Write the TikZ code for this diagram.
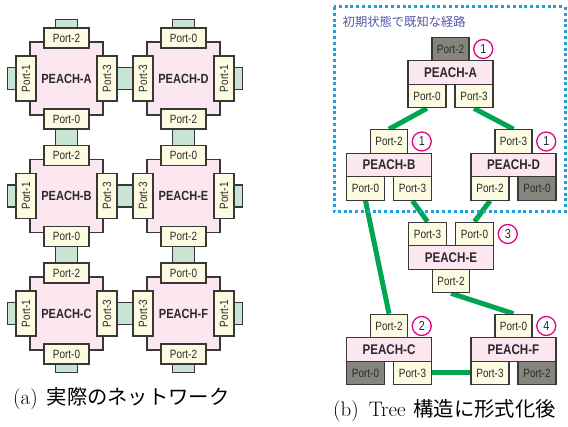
\documentclass[tikz,border=0pt]{standalone}
\usepackage{fontspec}
\usetikzlibrary{backgrounds,positioning}
\newfontfamily\cf[FakeStretch=0.83]{Liberation Sans}
\newfontfamily\jp{Noto Sans CJK JP}
\definecolor{pinkc}{HTML}{FCE6F0}
\definecolor{creamc}{HTML}{FEFBE3}
\definecolor{tabc}{HTML}{C8E4D2}
\definecolor{bordc}{HTML}{383838}
\definecolor{grayc}{HTML}{85857D}
\definecolor{greenc}{HTML}{00A54F}
\definecolor{bluec}{HTML}{1BA1E2}
\definecolor{magc}{HTML}{E4007F}
\definecolor{labc}{HTML}{5555A5}
\definecolor{txtc}{HTML}{2A2A2A}
\tikzset{
  bd/.style={draw=bordc, line width=1.2pt},
  body/.style={bd, fill=pinkc, minimum width=73pt, minimum height=73pt, inner sep=0pt, text=txtc, font=\cf\bfseries\fontsize{13.3}{15}\selectfont},
  hport/.style={bd, fill=creamc, minimum width=45pt, minimum height=20pt, inner sep=0pt, text=txtc, font=\cf\fontsize{12}{13}\selectfont},
  vport/.style={hport, rotate=90},
  tab/.style={bd, fill=tabc},
  tbody/.style={bd, fill=pinkc, minimum width=85pt, minimum height=23.5pt, inner sep=0pt, text=txtc, font=\cf\bfseries\fontsize{14}{16}\selectfont},
  tport/.style={bd, fill=creamc, minimum width=38pt, minimum height=23.5pt, inner sep=0pt, text=txtc, font=\cf\fontsize{12}{13}\selectfont},
  gport/.style={tport, fill=grayc},
  num/.style={circle, draw=magc, line width=1.3pt, fill=white, minimum size=19pt, inner sep=0pt, text=txtc, font=\cf\fontsize{13}{14}\selectfont},
  gline/.style={draw=greenc, line width=5pt},
  dotf/.style={draw=bluec, line width=3pt, dash pattern=on 3pt off 2.8pt},
}
\newcommand\pblk[8]{%
  \node[body] (#1) at (#2,#3) {#4};
  \node[hport] (#1-t) at (#2,#3-40.5) {#5};
  \node[vport] (#1-l) at (#2-40.5,#3) {#6};
  \node[vport] (#1-r) at (#2+40.5,#3) {#7};
  \node[hport] (#1-b) at (#2,#3+40.5) {#8};
}
\begin{document}
\begin{tikzpicture}[x=1pt,y=-1pt]
\useasboundingbox (0,0) rectangle (568,427);
% ---------- (a) actual network ----------
\pblk{A}{66.5}{78.5}{PEACH-A}{Port-2}{Port-1}{Port-3}{Port-0}
\pblk{D}{183.5}{78.5}{PEACH-D}{Port-0}{Port-3}{Port-1}{Port-2}
\pblk{B}{66.5}{196}{PEACH-B}{Port-2}{Port-1}{Port-3}{Port-0}
\pblk{E}{183.5}{196}{PEACH-E}{Port-0}{Port-3}{Port-1}{Port-2}
\pblk{C}{66.5}{313.5}{PEACH-C}{Port-2}{Port-1}{Port-3}{Port-0}
\pblk{F}{183.5}{313.5}{PEACH-F}{Port-0}{Port-3}{Port-1}{Port-2}
\begin{scope}[on background layer]
  % outer tabs
  \draw[tab] ([shift={(-11,0)}]A-t.center) rectangle ([shift={(11,-18.5)}]A-t.center);
  \draw[tab] ([shift={(-11,0)}]D-t.center) rectangle ([shift={(11,-18.5)}]D-t.center);
  \draw[tab] ([shift={(-11,0)}]C-b.center) rectangle ([shift={(11,18.5)}]C-b.center);
  \draw[tab] ([shift={(-11,0)}]F-b.center) rectangle ([shift={(11,18.5)}]F-b.center);
  \draw[tab] ([shift={(0,-11)}]A-l.center) rectangle ([shift={(-18.5,11)}]A-l.center);
  \draw[tab] ([shift={(0,-11)}]B-l.center) rectangle ([shift={(-18.5,11)}]B-l.center);
  \draw[tab] ([shift={(0,-11)}]C-l.center) rectangle ([shift={(-18.5,11)}]C-l.center);
  \draw[tab] ([shift={(0,-11)}]D-r.center) rectangle ([shift={(18.5,11)}]D-r.center);
  \draw[tab] ([shift={(0,-11)}]E-r.center) rectangle ([shift={(18.5,11)}]E-r.center);
  \draw[tab] ([shift={(0,-11)}]F-r.center) rectangle ([shift={(18.5,11)}]F-r.center);
  % links between neighbours
  \draw[tab] ([shift={(0,-11)}]A-r.center) rectangle ([shift={(0,11)}]D-l.center);
  \draw[tab] ([shift={(0,-11)}]B-r.center) rectangle ([shift={(0,11)}]E-l.center);
  \draw[tab] ([shift={(0,-11)}]C-r.center) rectangle ([shift={(0,11)}]F-l.center);
  \draw[tab] ([shift={(-11,0)}]A-b.center) rectangle ([shift={(11,0)}]B-t.center);
  \draw[tab] ([shift={(-11,0)}]B-b.center) rectangle ([shift={(11,0)}]C-t.center);
  \draw[tab] ([shift={(-11,0)}]D-b.center) rectangle ([shift={(11,0)}]E-t.center);
  \draw[tab] ([shift={(-11,0)}]E-b.center) rectangle ([shift={(11,0)}]F-t.center);
\end{scope}
\node[anchor=base west, inner sep=0pt] (capa) at (13,405)
  {\fontsize{21}{24}\selectfont (a)\hspace{9pt}{\jp\fontsize{20.3}{24}\selectfont 実際のネットワーク}};
% ---------- (b) tree ----------
\draw[dotf] (334,7) rectangle (565,212);
\node[anchor=west, inner sep=0pt, text=labc, font=\jp\fontsize{12.3}{14}\selectfont] (lbl) at (342.5,22) {初期状態で既知な経路};
% A
\node[tbody] (TA) at (450.5,72.5) {PEACH-A};
\node[gport, minimum width=37pt] (TA2) at (450.5,49) {Port-2};
\node[tport] (TA0) at (427,96) {Port-0};
\node[tport] (TA3) at (474,96) {Port-3};
\node[num, right=3.5pt of TA2] (nA) {1};
% B
\node[tbody] (TB) at (389,165) {PEACH-B};
\node[tport, minimum width=37pt] (TB2) at (389,141.5) {Port-2};
\node[tport] (TB0) at (365.5,188.5) {Port-0};
\node[tport] (TB3) at (412.5,188.5) {Port-3};
\node[num, right=3.5pt of TB2] (nB) {1};
% D
\node[tbody] (TD) at (513.5,165) {PEACH-D};
\node[tport, minimum width=37pt] (TD3) at (513.5,141.5) {Port-3};
\node[tport] (TD2) at (490,188.5) {Port-2};
\node[gport] (TD0) at (537,188.5) {Port-0};
\node[num, right=3.5pt of TD3] (nD) {1};
% E
\node[tbody] (TE) at (451,257.5) {PEACH-E};
\node[tport] (TE3) at (427.5,234) {Port-3};
\node[tport] (TE0) at (474.5,234) {Port-0};
\node[tport, minimum width=37pt] (TE2) at (451,281) {Port-2};
\node[num, right=3.5pt of TE0] (nE) {3};
% C
\node[tbody] (TC) at (389,349.5) {PEACH-C};
\node[tport, minimum width=37pt] (TC2) at (389,326) {Port-2};
\node[gport] (TC0) at (365.5,373) {Port-0};
\node[tport] (TC3) at (412.5,373) {Port-3};
\node[num, right=3.5pt of TC2] (nC) {2};
% F
\node[tbody] (TF) at (513.5,349.5) {PEACH-F};
\node[tport, minimum width=37pt] (TF0) at (513.5,326) {Port-0};
\node[tport] (TF3) at (490,373) {Port-3};
\node[gport] (TF2) at (537,373) {Port-2};
\node[num, right=3.5pt of TF0] (nF) {4};
\begin{scope}[on background layer]
  \draw[gline] (TA0.south) -- (TB2.north);
  \draw[gline] (TA3.south) -- (TD3.north);
  \draw[gline] (TB0.south) -- (TC2.north);
  \draw[gline] (TB3.south) -- (TE3.north);
  \draw[gline] (TD2.south) -- (TE0.north);
  \draw[gline] (TE2.south) -- (TF0.north);
  \draw[gline] (TC3.east) -- (TF3.west);
\end{scope}
\node[anchor=base west, inner sep=0pt] (capb) at (333,417)
  {\fontsize{21}{24}\selectfont (b)\hspace{10pt}Tree\hspace{8pt}{\jp\fontsize{20.3}{24}\selectfont 構造に形式化後}};
\end{tikzpicture}
\end{document}
